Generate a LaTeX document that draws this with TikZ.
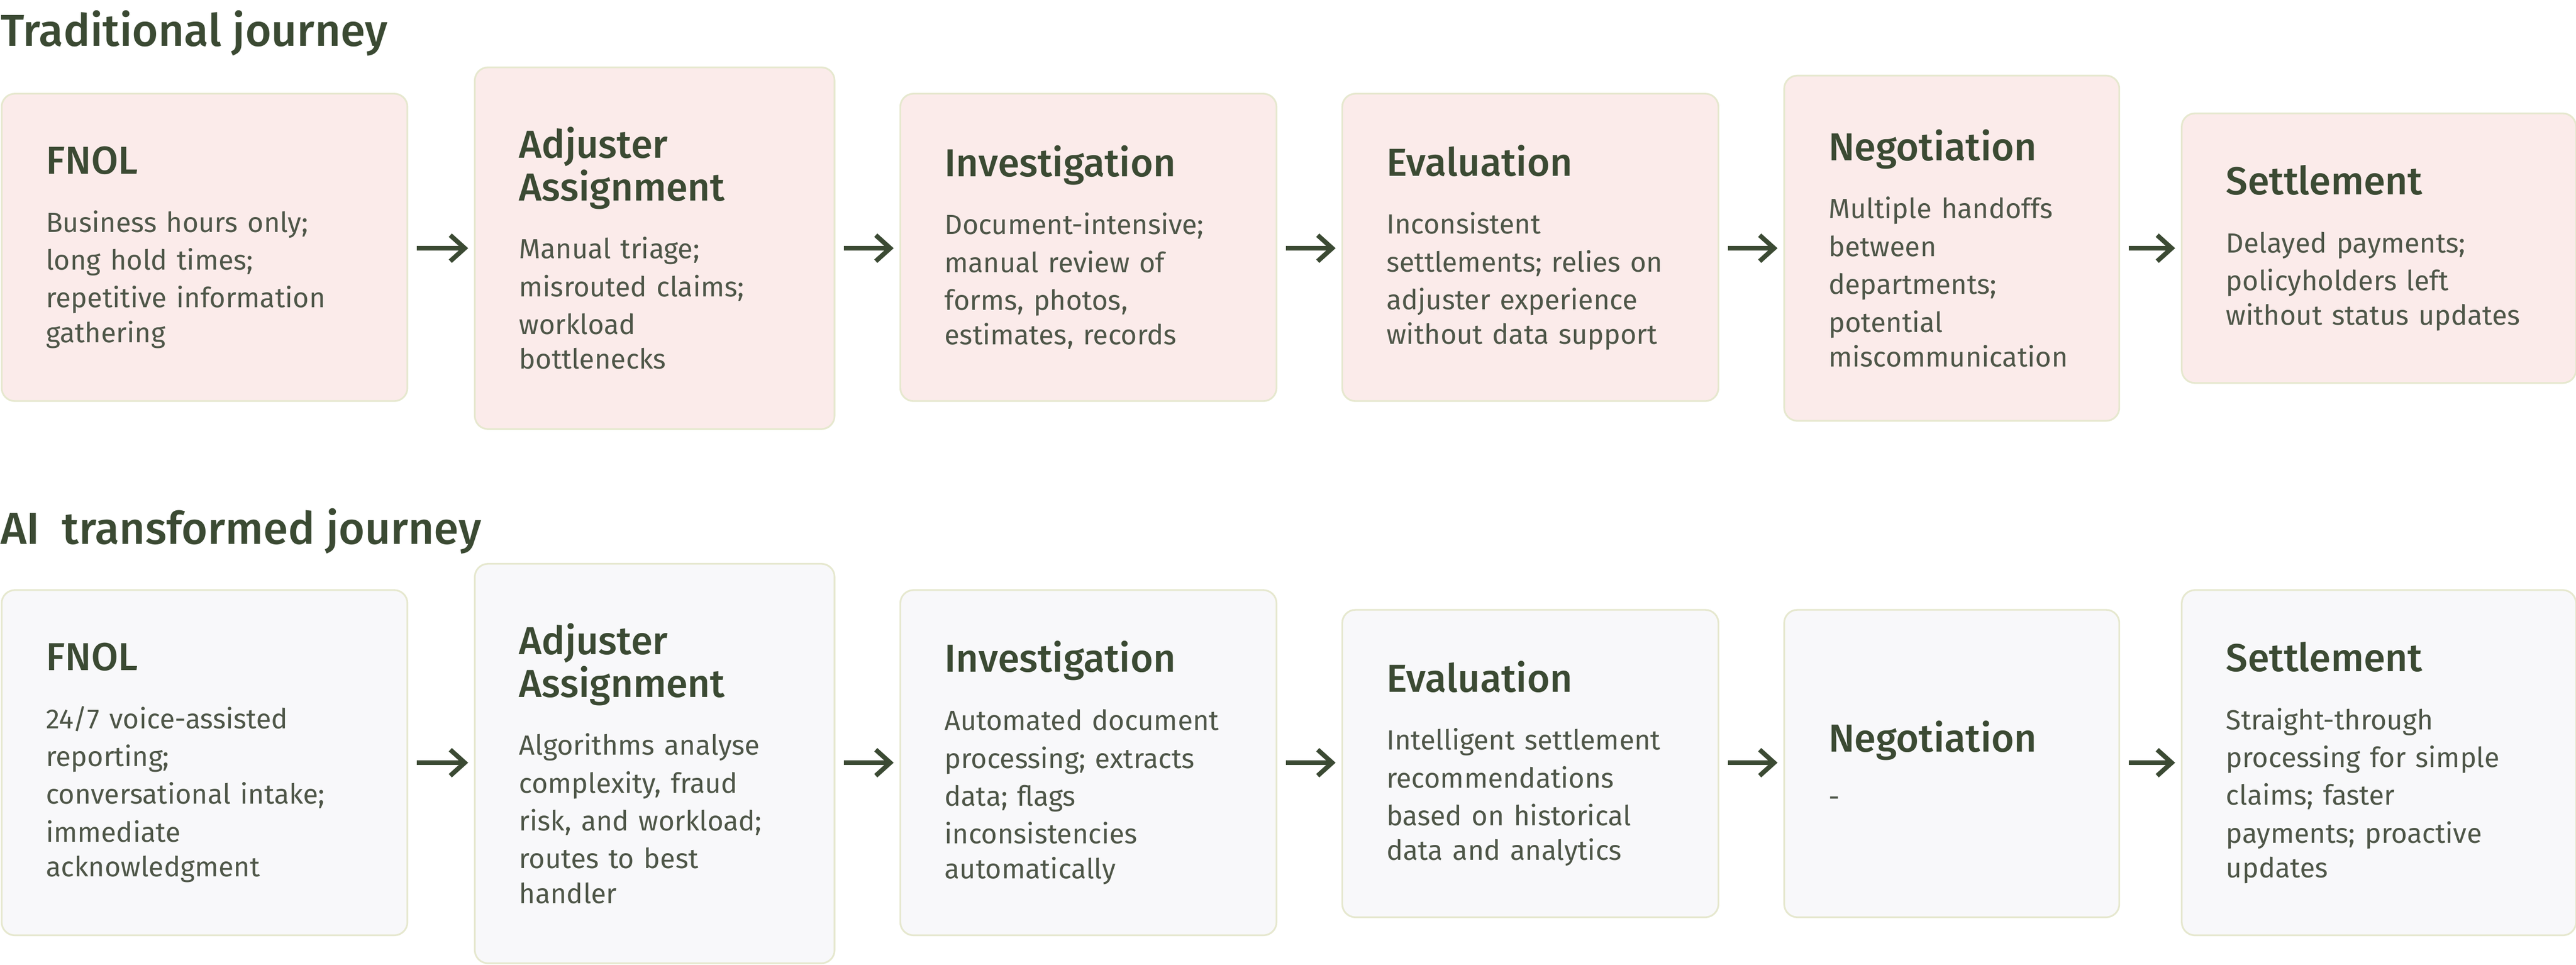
\documentclass[tikz,border=0pt]{standalone}
\usepackage{fontspec}
\setmainfont{Fira Sans}
\newfontfamily\headfont{Fira Sans Medium}
\definecolor{ink}{HTML}{3B4A33}
\definecolor{bodyink}{HTML}{4E5648}
\definecolor{oldfill}{HTML}{FBEBEA}
\definecolor{newfill}{HTML}{F8F8FA}
\definecolor{edge}{HTML}{E6E8CF}
\newcommand{\stephead}[1]{{\headfont\fontsize{13.5}{18.5}\selectfont\color{ink}#1}\\[7pt]}
\newcommand{\stepbody}[1]{{\fontsize{9.6}{13.1}\selectfont\color{bodyink}#1}}
\tikzset{
  stage/.style={draw=edge, line width=0.6pt, rounded corners=0.16cm, align=left,
    anchor=center, inner xsep=0.54cm, inner ysep=0pt},
  flow/.style={draw=ink, line width=1.6pt, -{Straight Barb[length=5pt,width=9pt]}},
  section/.style={anchor=base west, inner sep=0pt, font=\headfont\fontsize{15.5}{18}\selectfont, text=ink}
}
\usetikzlibrary{arrows.meta}
\begin{document}
\begin{tikzpicture}[x=0.02cm,y=-0.02cm]
 \useasboundingbox (0,0) rectangle (1568,587);

 \node[section] (trad) at (0,28) {Traditional journey};
 \node[section] (ai) at (0,331) {AI\ \ transformed journey};

 % traditional row
 \foreach \n/\xa/\xb/\ya/\yb/\txt in {
   1/1/248/57/244/{\stephead{FNOL}\stepbody{Business hours only;\\long hold times;\\repetitive information\\gathering}},
   2/289/508/41/261/{\stephead{Adjuster\\Assignment}\stepbody{Manual triage;\\misrouted claims;\\workload\\bottlenecks}},
   3/548/777/57/244/{\stephead{Investigation}\stepbody{Document-intensive;\\manual review of\\forms, photos,\\estimates, records}},
   4/817/1046/57/244/{\stephead{Evaluation}\stepbody{Inconsistent\\settlements; relies on\\adjuster experience\\without data support}},
   5/1086/1290/46/256/{\stephead{Negotiation}\stepbody{Multiple handoffs\\between\\departments;\\potential\\miscommunication}},
   6/1328/1568/69/233/{\stephead{Settlement}\stepbody{Delayed payments;\\policyholders left\\without status updates}}} {
   \node[stage, fill=oldfill, text width={(\xb-\xa-54)*0.02cm}, minimum height={(\yb-\ya)*0.02cm}]
     (t\n) at ({(\xa+\xb)/2},{(\ya+\yb)/2}) {\txt};
 }

 % transformed row
 \foreach \n/\xa/\xb/\ya/\yb/\txt in {
   1/1/248/359/569/{\stephead{FNOL}\stepbody{24/7 voice-assisted\\reporting;\\conversational intake;\\immediate\\acknowledgment}},
   2/289/508/343/586/{\stephead{Adjuster\\Assignment}\stepbody{Algorithms analyse\\complexity, fraud\\risk, and workload;\\routes to best\\handler}},
   3/548/777/359/569/{\stephead{Investigation}\stepbody{Automated document\\processing; extracts\\data; flags\\inconsistencies\\automatically}},
   4/817/1046/371/558/{\stephead{Evaluation}\stepbody{Intelligent settlement\\recommendations\\based on historical\\data and analytics}},
   5/1086/1290/371/558/{\stephead{Negotiation}\stepbody{-}},
   6/1328/1568/359/569/{\stephead{Settlement}\stepbody{Straight-through\\processing for simple\\claims; faster\\payments; proactive\\updates}}} {
   \node[stage, fill=newfill, text width={(\xb-\xa-54)*0.02cm}, minimum height={(\yb-\ya)*0.02cm}]
     (a\n) at ({(\xa+\xb)/2},{(\ya+\yb)/2}) {\txt};
 }

 % arrows
 \foreach \i/\j in {1/2,2/3,3/4,4/5,5/6} {
   \draw[flow] ([xshift=3pt]t\i.east |- 0,151) -- ([xshift=-2pt]t\j.west |- 0,151);
   \draw[flow] ([xshift=3pt]a\i.east |- 0,464) -- ([xshift=-2pt]a\j.west |- 0,464);
 }
\end{tikzpicture}
\end{document}
